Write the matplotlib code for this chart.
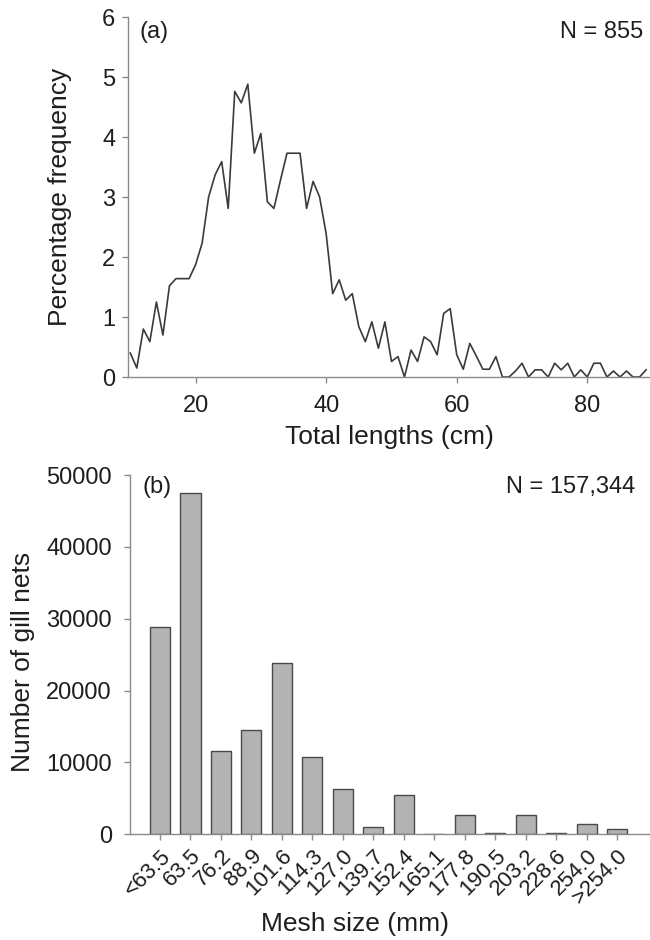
import numpy as np
import matplotlib.pyplot as plt

plt.rcParams['font.family'] = ['Liberation Sans', 'DejaVu Sans']

# (a) length-frequency of the catch
lengths = list(range(10, 90))
pct_freq = [0.40, 0.15, 0.80, 0.59, 1.25, 0.70, 1.52, 1.64, 1.64, 1.64,
            1.87, 2.23, 3.00, 3.37, 3.59, 2.81, 4.76, 4.57, 4.88, 3.73,
            4.06, 2.92, 2.81, 3.28, 3.73, 3.73, 3.73, 2.81, 3.26, 3.00,
            2.39, 1.39, 1.62, 1.28, 1.39, 0.84, 0.59, 0.92, 0.48, 0.92,
            0.26, 0.34, 0.00, 0.45, 0.26, 0.67, 0.59, 0.37, 1.06, 1.14,
            0.37, 0.13, 0.56, 0.35, 0.13, 0.13, 0.34, 0.00, 0.00, 0.10,
            0.23, 0.00, 0.12, 0.12, 0.00, 0.23, 0.12, 0.23, 0.00, 0.12,
            0.00, 0.23, 0.23, 0.00, 0.10, 0.00, 0.10, 0.00, 0.00, 0.12]

# (b) gill nets by mesh size
mesh_labels = ['<63.5', '63.5', '76.2', '88.9', '101.6', '114.3', '127.0',
               '139.7', '152.4', '165.1', '177.8', '190.5', '203.2',
               '228.6', '254.0', '>254.0']
net_counts = [28900, 47450, 11600, 14500, 23800, 10700, 6260, 970, 5470,
              0, 2690, 150, 2690, 200, 1440, 790]

spine_col = '#8a8a8a'
text_col = '#1e1e1e'


def style_axes(ax):
    """
    Keep only left/bottom spines, grey, ticks pointing out.
    """
    for side in ['top', 'right']:
        ax.spines[side].set_visible(False)
    for side in ['left', 'bottom']:
        ax.spines[side].set_color(spine_col)
        ax.spines[side].set_linewidth(1.0)
    ax.tick_params(direction='out', length=4, width=1.0, color=spine_col,
                   labelcolor=text_col, labelsize=17)


fig = plt.figure(figsize=(6.5, 9.4), dpi=100)

# Panel (a)
ax1 = fig.add_axes([0.1969, 0.5989, 0.8031, 0.3830])
ax1.plot(lengths, pct_freq, color='#3a3a3a', lw=1.2, clip_on=False)
ax1.set_xlim(9.65, 89.6)
ax1.set_ylim(0, 6)
ax1.set_xticks([20, 40, 60, 80])
ax1.set_yticks(range(0, 7))
style_axes(ax1)
ax1.tick_params(axis='x', pad=9)
ax1.tick_params(axis='y', pad=5)
ax1.set_xlabel('Total lengths (cm)', fontsize=19, color=text_col, labelpad=6)
ax1.set_ylabel('Percentage frequency', fontsize=19, color=text_col)
ax1.yaxis.set_label_coords(-0.107, 0.5)
ax1.text(0.023, 0.958, '(a)', transform=ax1.transAxes, fontsize=17,
         color=text_col, ha='left', va='center')
ax1.text(0.987, 0.958, 'N = 855', transform=ax1.transAxes, fontsize=17,
         color=text_col, ha='right', va='center')

# Panel (b)
ax2 = fig.add_axes([0.2, 0.1124, 0.8, 0.3822])
pos = np.arange(len(mesh_labels))
ax2.bar(pos, net_counts, width=0.66, color='#b3b3b3', edgecolor='#4a4a4a',
        linewidth=1.0)
ax2.set_xlim(-0.985, 16.08)
ax2.set_ylim(0, 50000)
ax2.set_yticks(range(0, 50001, 10000))
ax2.set_xticks(pos)
style_axes(ax2)
ax2.set_xticklabels(mesh_labels, rotation=45, ha='right', va='top',
                    rotation_mode='anchor', fontsize=16)
ax2.tick_params(axis='x', pad=4)
ax2.tick_params(axis='y', pad=9)
ax2.set_xlabel('Mesh size (mm)', fontsize=19, color=text_col)
ax2.xaxis.set_label_coords(0.433, -0.215)
ax2.set_ylabel('Number of gill nets', fontsize=19, color=text_col)
ax2.yaxis.set_label_coords(-0.183, 0.48)
ax2.text(0.025, 0.967, '(b)', transform=ax2.transAxes, fontsize=17,
         color=text_col, ha='left', va='center')
ax2.text(0.971, 0.967, 'N = 157,344', transform=ax2.transAxes, fontsize=17,
         color=text_col, ha='right', va='center')

plt.savefig('out.png', dpi=100)
